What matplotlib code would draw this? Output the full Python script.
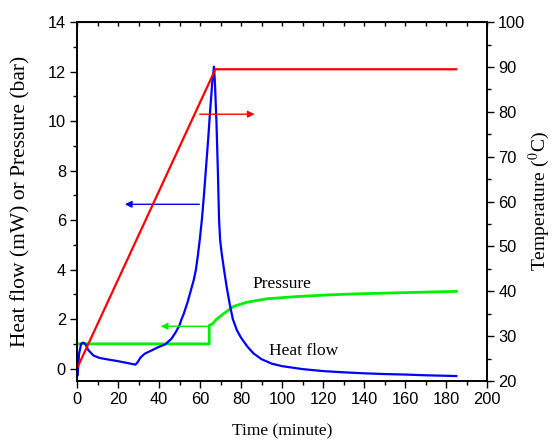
import matplotlib
matplotlib.use("Agg")
import matplotlib.pyplot as plt
from matplotlib.ticker import MultipleLocator

plt.rcParams["mathtext.fontset"] = "stix"

# Heat flow (mW) vs time (minute)
heat_time = [0, 0.3, 1.0, 2.0, 3.0, 4.0, 5.5, 8.0, 11.0, 15, 20, 25, 28.5, 29.5, 31, 33,
             36, 40, 43, 46, 48, 50, 51, 52, 54, 56, 57, 58, 59, 60, 61, 62, 63, 64, 65,
             66, 66.8, 67.3, 68, 68.7, 69.3, 69.8, 70.5, 71.7, 73, 74.5, 76, 78, 80,
             83, 86, 90, 95, 100, 110, 120, 130, 140, 150, 160, 170, 180, 185]
heat_flow = [-0.25, -0.28, 0.6, 1.0, 1.05, 1.0, 0.75, 0.53, 0.43, 0.37, 0.3, 0.22, 0.16,
             0.25, 0.45, 0.6, 0.72, 0.88, 0.98, 1.2, 1.45, 1.75, 2.0, 2.2, 2.7, 3.3,
             3.6, 4.0, 4.6, 5.3, 6.1, 7.1, 8.2, 9.3, 10.5, 11.6, 12.2, 11.5, 10.0, 8.0,
             6.0, 5.2, 4.7, 4.0, 3.3, 2.6, 2.0, 1.55, 1.25, 0.9, 0.62, 0.38, 0.2, 0.1,
             -0.02, -0.1, -0.15, -0.19, -0.22, -0.24, -0.27, -0.29, -0.3]

# Pressure (bar) vs time (minute)
pres_time = [0, 64.5, 64.5, 66.0, 68.1, 71.4, 76.3, 82.8, 92.5, 107, 123, 136, 150,
             160, 185]
pressure = [1.0, 1.0, 1.75, 1.8, 2.0, 2.21, 2.51, 2.68, 2.82, 2.91, 2.98, 3.02, 3.05,
            3.07, 3.12]

# Temperature (deg C) vs time (minute)
temp_time = [0, 67.5, 185]
temperature = [22.8, 89.5, 89.5]

fig = plt.figure(figsize=(5.56, 4.43), dpi=100)
ax = fig.add_axes([0.1385, 0.140, 0.7375, 0.810])
ax2 = ax.twinx()

serif = "Liberation Serif"
sans = "Liberation Sans"

ax.plot(heat_time, heat_flow, color="#0000ff", lw=1.6, zorder=3)
ax.plot(pres_time, pressure, color="#00f000", lw=2.0, zorder=2)
ax2.plot(temp_time, temperature, color="#ff0000", lw=1.6)

ax.set_xlim(0, 200)
ax.set_ylim(-0.5, 14)
ax2.set_ylim(20, 100)

ax.xaxis.set_major_locator(MultipleLocator(20))
ax.xaxis.set_minor_locator(MultipleLocator(10))
ax.yaxis.set_major_locator(MultipleLocator(2))
ax.yaxis.set_minor_locator(MultipleLocator(1))
ax2.yaxis.set_major_locator(MultipleLocator(10))
ax2.yaxis.set_minor_locator(MultipleLocator(5))

ax.tick_params(which="major", direction="out", length=5, width=1, labelsize=11.8, pad=3)
ax.tick_params(which="minor", direction="out", length=3, width=1)
ax2.tick_params(which="major", direction="out", length=5, width=1, labelsize=11.8, pad=3)
ax2.tick_params(which="minor", direction="out", length=3, width=1)
for lab in ax.get_xticklabels() + ax.get_yticklabels() + ax2.get_yticklabels():
    lab.set_fontfamily(sans)

# top spine: small inward ticks
secx = ax.secondary_xaxis("top")
secx.xaxis.set_major_locator(MultipleLocator(10))
secx.tick_params(direction="in", length=3, width=1, labeltop=False)

for a in (ax, ax2):
    for s in a.spines.values():
        s.set_linewidth(1.2)

ax.set_xlabel("Time (minute)", fontfamily=serif, fontsize=12.5, labelpad=12)
ax.set_ylabel("Heat flow (mW) or Pressure (bar)", fontfamily=serif, fontsize=15.5)
ax.yaxis.set_label_coords(-0.113, 0.5)
ax2.set_ylabel("Temperature ($^{0}$C)", fontfamily=serif, fontsize=14)
ax2.yaxis.set_label_coords(1.098, 0.5)

# arrows pointing to the axis each curve belongs to
ax.annotate("", xy=(88, 10.28), xytext=(58.5, 10.28),
            arrowprops=dict(arrowstyle="-|>", color="#ff0000", lw=1, mutation_scale=10))
ax.annotate("", xy=(22, 6.64), xytext=(61, 6.64),
            arrowprops=dict(arrowstyle="-|>", color="#0000ff", lw=1, mutation_scale=10))
ax.annotate("", xy=(39.5, 1.71), xytext=(64.9, 1.71),
            arrowprops=dict(arrowstyle="-|>", color="#00f000", lw=1, mutation_scale=10))

ax.text(85.7, 3.4, "Pressure", fontfamily=serif, fontsize=12.5, va="center", ha="left")
ax.text(93.5, 0.73, "Heat flow", fontfamily=serif, fontsize=12.5, va="center", ha="left")

fig.savefig("out.png", dpi=100)
